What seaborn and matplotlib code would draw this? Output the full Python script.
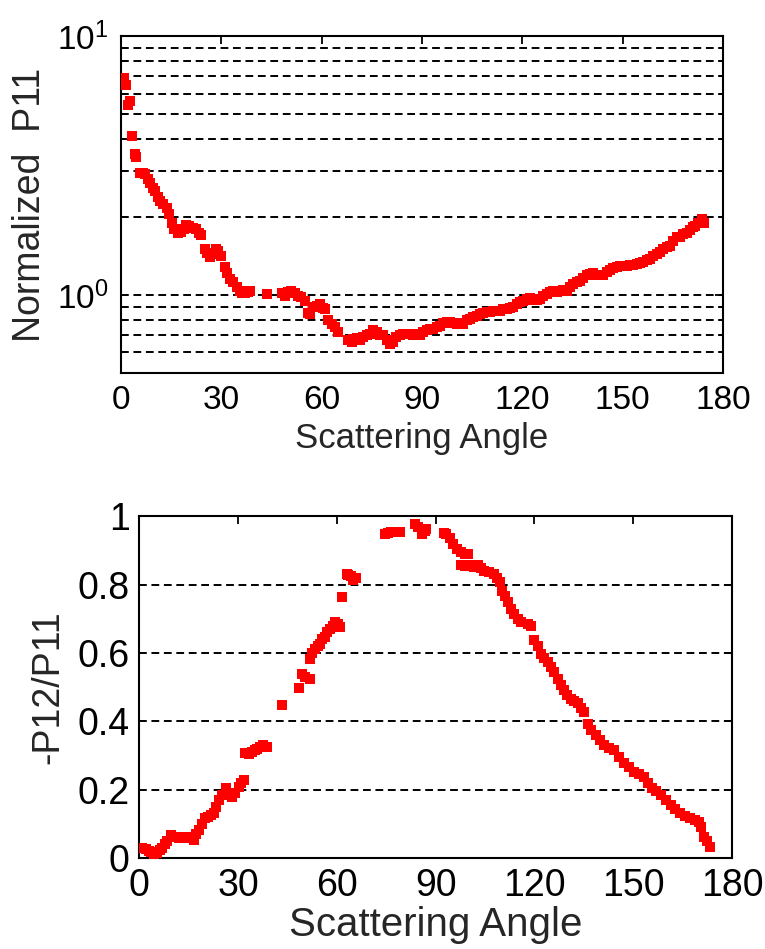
import matplotlib
matplotlib.use("Agg")
import matplotlib.pyplot as plt
import seaborn as sns
import pandas as pd
from matplotlib.ticker import FixedLocator, FixedFormatter, NullFormatter

# ---------------- data ----------------
p11_angle = [1.0, 1.5, 2.2, 2.6, 3.2, 4.2, 4.6, 5.7, 6.5, 7.2, 8.0, 8.7, 9.5, 10.2, 11.0, 11.7,
             12.5, 13.7, 14.5, 15.2, 16.0, 17.1, 18.0, 19.0, 19.6, 20.5, 21.6, 22.5, 23.5, 24.1,
             25.1, 25.8, 26.6, 27.5, 28.3, 29.1, 30.0, 31.1, 31.8, 32.6, 33.5, 34.6, 35.5, 36.3,
             37.1, 38.0, 38.6, 43.6, 48.3, 49.0, 50.0, 51.0, 52.0, 53.0, 54.0, 55.0, 56.0, 56.5,
             57.5, 58.5, 59.5, 60.5, 61.0, 62.0, 63.0, 64.0, 65.0, 68.0, 69.0, 69.5, 70.5, 71.5,
             72.5, 73.5, 74.5, 75.5, 76.5, 77.5, 78.5, 79.5, 80.4, 81.3, 82.3, 83.4, 84.4, 85.4,
             86.4, 87.4, 88.4, 89.4, 90.4, 91.4, 92.4, 93.4, 94.4, 95.4, 96.4, 97.4, 98.4, 99.4,
             100.4, 101.4, 102.4, 103.4, 104.4, 105.4, 106.4, 107.4, 108.4, 109.4, 110.4, 111.4,
             112.3, 113.3, 114.3, 115.3, 116.3, 117.3, 118.3, 119.3, 120.3, 121.3, 122.3, 123.3,
             124.3, 125.3, 126.3, 127.3, 128.3, 129.3, 130.3, 131.3, 132.3, 133.3, 134.3, 135.3,
             136.3, 137.3, 138.3, 139.3, 140.2, 141.2, 142.2, 143.2, 144.2, 145.2, 146.2, 147.2,
             148.2, 149.2, 150.2, 151.2, 152.2, 153.2, 154.2, 155.2, 156.2, 157.2, 158.2, 159.2,
             160.2, 161.2, 162.2, 163.2, 164.2, 165.2, 166.2, 167.2, 168.2, 169.2, 170.2, 171.0,
             171.7, 172.5, 173.6, 174.2]
p11_value = [6.9, 6.5, 5.4, 5.6, 4.1, 3.5, 3.4, 2.96, 2.95, 2.92, 2.8, 2.71, 2.6, 2.52, 2.4, 2.30,
             2.25, 2.17, 2.05, 1.90, 1.80, 1.74, 1.75, 1.80, 1.87, 1.84, 1.82, 1.80, 1.73, 1.71,
             1.50, 1.45, 1.40, 1.44, 1.50, 1.48, 1.42, 1.28, 1.22, 1.15, 1.12, 1.07, 1.04, 1.02,
             1.02, 1.03, 1.04, 1.01, 1.02, 0.99, 1.03, 1.04, 1.02, 0.99, 0.98, 0.95, 0.85, 0.845,
             0.90, 0.91, 0.92, 0.89, 0.88, 0.80, 0.774, 0.75, 0.719, 0.67, 0.66, 0.678, 0.68, 0.67,
             0.687, 0.70, 0.71, 0.73, 0.72, 0.70, 0.70, 0.67, 0.648, 0.66, 0.69, 0.70, 0.71, 0.71,
             0.71, 0.70, 0.71, 0.70, 0.72, 0.73, 0.74, 0.74, 0.75, 0.76, 0.78, 0.785, 0.79, 0.78,
             0.77, 0.78, 0.774, 0.80, 0.81, 0.82, 0.83, 0.845, 0.85, 0.86, 0.86, 0.87,
             0.87, 0.87, 0.88, 0.88, 0.89, 0.897, 0.92, 0.94, 0.95, 0.965, 0.97, 0.96,
             0.96, 0.965, 0.99, 1.01, 1.03, 1.04, 1.03, 1.04, 1.05, 1.04, 1.07, 1.10,
             1.12, 1.135, 1.16, 1.19, 1.21, 1.22, 1.20, 1.19, 1.19, 1.23, 1.25, 1.27,
             1.28, 1.29, 1.30, 1.30, 1.31, 1.31, 1.32, 1.33, 1.34, 1.36, 1.38, 1.41,
             1.44, 1.46, 1.50, 1.53, 1.55, 1.62, 1.67, 1.68, 1.72, 1.74, 1.78, 1.83,
             1.85, 1.90, 1.96, 1.90]

p12_angle = [0.9, 2.0, 3.0, 3.5, 4.5, 5.5, 6.2, 7.0, 7.8, 8.5, 9.5, 10.5, 11.2, 12.0, 13.0, 14.0,
             15.1, 16.0, 16.6, 17.3, 18.1, 19.0, 20.1, 21.0, 21.8, 22.6, 23.4, 24.1, 25.0, 26.2,
             27.2, 28.2, 29.2, 30.2, 31.0, 31.7, 32.2, 33.2, 34.2, 35.0, 35.8, 36.7, 37.5, 38.8,
             43.3, 48.4, 49.4, 50.2, 51.9, 51.9, 52.6, 53.4, 54.2, 54.9, 55.6, 56.4, 57.1, 57.9,
             58.7, 59.4, 60.2, 61.0, 61.5, 63.0, 63.5, 64.2, 65.0, 65.8, 74.6, 75.6, 76.4, 77.1,
             78.0, 79.1, 83.7, 84.7, 85.7, 86.7, 87.2, 92.5, 93.2, 94.2, 95.2, 96.5, 97.8, 98.8,
             99.8, 97.8, 99.0, 100.5, 101.5, 102.8, 103.8, 104.8, 106.2, 107.8, 108.6, 109.4,
             110.2, 110.9, 111.9, 112.9, 113.9, 114.9, 116.0, 117.9, 118.8, 119.9, 121.0, 122.0,
             123.0, 124.0, 125.0, 126.0, 127.0, 128.0, 129.0, 130.0, 131.0, 132.0, 133.1, 134.1,
             135.1, 136.1, 137.3, 138.6, 139.8, 141.1, 142.6, 144.1, 145.6, 147.2, 148.7, 150.2,
             151.7, 153.2, 154.5, 155.8, 157.0, 158.3, 159.8, 161.3, 162.8, 164.3, 165.8, 167.3,
             168.6, 169.9, 170.6, 171.4, 172.4, 173.4]
p12_value = [0.028, 0.025, 0.02, 0.018, 0.009, 0.015, 0.022, 0.028, 0.04, 0.05, 0.067, 0.062, 0.06,
             0.057, 0.06, 0.058, 0.062, 0.057, 0.053, 0.07, 0.082, 0.10, 0.116, 0.12, 0.125, 0.130,
             0.15, 0.169, 0.185, 0.204, 0.19, 0.179, 0.19, 0.208, 0.22, 0.228, 0.306, 0.305, 0.311,
             0.315, 0.32, 0.325, 0.33, 0.325, 0.447, 0.496, 0.539, 0.53, 0.525, 0.583, 0.60, 0.612,
             0.62, 0.627, 0.64, 0.647, 0.66, 0.671, 0.68, 0.690, 0.685, 0.676, 0.763, 0.83, 0.827,
             0.825, 0.812, 0.82, 0.948, 0.950, 0.953, 0.953, 0.955, 0.953, 0.978, 0.968, 0.948,
             0.958, 0.963, 0.950, 0.948, 0.935, 0.919, 0.905, 0.895, 0.89, 0.890, 0.856, 0.855,
             0.858, 0.852, 0.856, 0.85, 0.841, 0.838, 0.832, 0.82, 0.807, 0.78, 0.768, 0.75, 0.729,
             0.715, 0.700, 0.69, 0.685, 0.68, 0.637, 0.62, 0.598, 0.585, 0.574, 0.56, 0.544, 0.525,
             0.505, 0.49, 0.476, 0.465, 0.46, 0.452, 0.44, 0.427, 0.393, 0.375, 0.359, 0.345, 0.330,
             0.322, 0.315, 0.295, 0.277, 0.265, 0.252, 0.245, 0.238, 0.22, 0.204, 0.195, 0.184,
             0.17, 0.155, 0.142, 0.130, 0.122, 0.116, 0.11, 0.106, 0.09, 0.062, 0.048, 0.033]

x_ticks = [0, 30, 60, 90, 120, 150, 180]
x_tick_labels = ["0", "30", "60", "90", "120", "150", "180"]
top_y_major = [1, 10]
top_y_major_labels = [r"$\mathregular{10^{0}}$", r"$\mathregular{10^{1}}$"]
top_y_grid = [0.5, 0.6, 0.7, 0.8, 0.9, 1, 2, 3, 4, 5, 6, 7, 8, 9]
bot_y_ticks = [0, 0.2, 0.4, 0.6, 0.8, 1]
bot_y_labels = ["0", "0.2", "0.4", "0.6", "0.8", "1"]
bot_y_grid = [0.2, 0.4, 0.6, 0.8]

# ---------------- style ----------------
sns.set_style("white")
plt.rcParams["font.family"] = ["Liberation Sans", "DejaVu Sans"]
plt.rcParams["mathtext.default"] = "regular"
plt.rcParams["axes.linewidth"] = 1.5

fig = plt.figure(figsize=(7.65, 9.49), dpi=100)
ax1 = fig.add_axes([0.158, 0.607, 0.787, 0.355])
ax2 = fig.add_axes([0.182, 0.096, 0.775, 0.360])

df1 = pd.DataFrame({"angle": p11_angle, "p11": p11_value})
df2 = pd.DataFrame({"angle": p12_angle, "p12": p12_value})

dash = (0, (4, 2.4))

# ---- top panel ----
ax1.set_yscale("log")
for g in top_y_grid:
    ax1.axhline(g, color="black", lw=1.4, ls=dash, zorder=1)
sns.scatterplot(data=df1, x="angle", y="p11", ax=ax1, marker="s", color="#ff0000",
                s=50, linewidth=0, zorder=3, legend=False)
ax1.set_xlim(0, 180)
ax1.set_ylim(0.5, 10)
ax1.xaxis.set_major_locator(FixedLocator(x_ticks))
ax1.set_xticklabels(x_tick_labels)
ax1.yaxis.set_major_locator(FixedLocator(top_y_major))
ax1.yaxis.set_major_formatter(FixedFormatter(top_y_major_labels))
ax1.yaxis.set_minor_locator(FixedLocator(top_y_grid))
ax1.yaxis.set_minor_formatter(NullFormatter())
ax1.tick_params(axis="both", which="major", direction="in", top=True, right=True,
                length=6, width=1.3, labelsize=24, pad=9, colors="black")
ax1.tick_params(axis="y", which="minor", direction="in", left=True, right=True,
                length=3.5, width=1.1)
ax1.set_xlabel("Scattering Angle", fontsize=25, labelpad=4)
ax1.set_ylabel("Normalized  P11", fontsize=27, labelpad=6)
for s in ax1.spines.values():
    s.set_color("black")
    s.set_linewidth(1.5)

# ---- bottom panel ----
for g in bot_y_grid:
    ax2.axhline(g, color="black", lw=1.4, ls=dash, zorder=1)
sns.scatterplot(data=df2, x="angle", y="p12", ax=ax2, marker="s", color="#ff0000",
                s=62, linewidth=0, zorder=3, legend=False)
ax2.set_xlim(0, 180)
ax2.set_ylim(0, 1)
ax2.set_xticks(x_ticks)
ax2.set_xticklabels(x_tick_labels)
ax2.set_yticks(bot_y_ticks)
ax2.set_yticklabels(bot_y_labels)
ax2.tick_params(axis="both", which="major", direction="in", top=True, right=True,
                length=6, width=1.3, labelsize=27, pad=7, colors="black")
ax2.set_xlabel("Scattering Angle", fontsize=29, labelpad=2)
ax2.set_ylabel("-P12/P11", fontsize=27, labelpad=8)
for s in ax2.spines.values():
    s.set_color("black")
    s.set_linewidth(1.5)

fig.savefig("out.png", dpi=100)
